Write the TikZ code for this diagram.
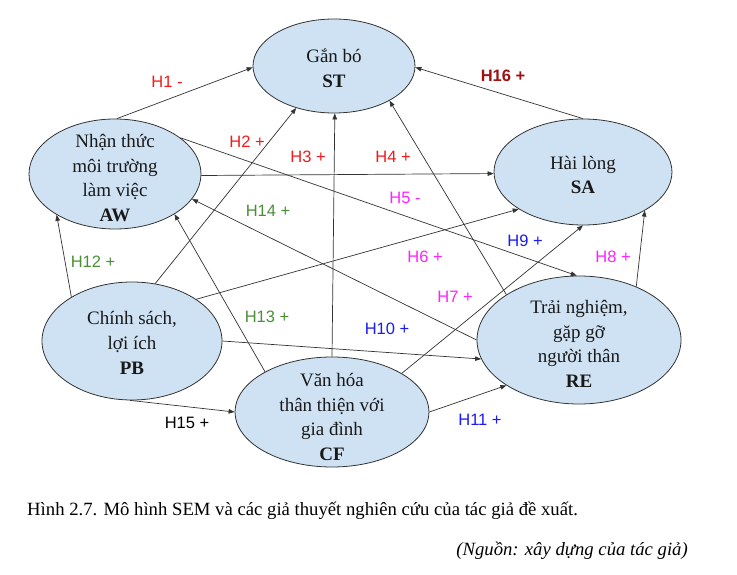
\documentclass[tikz,border=0pt]{standalone}
\usepackage{fontspec}
\setmainfont{Liberation Serif}
\newfontfamily\labfont{Liberation Sans}
\usetikzlibrary{shapes.geometric,arrows.meta}
\definecolor{nodefill}{HTML}{CFE2F3}
\definecolor{hred}{HTML}{F21A1A}
\definecolor{hdred}{HTML}{9C1212}
\definecolor{hmag}{HTML}{FF22FF}
\definecolor{hblue}{HTML}{1A1AF5}
\definecolor{hgreen}{HTML}{4A8F35}
\definecolor{lnc}{HTML}{333333}
\begin{document}
\begin{tikzpicture}[x=1pt,y=-1pt,
  var/.style={ellipse,draw=lnc,line width=0.8pt,fill=nodefill,inner sep=0pt},
  vtext/.style={align=center,font=\fontsize{19}{24.7}\selectfont,inner sep=0pt,text=black!90},
  hyp/.style={font=\labfont\fontsize{16.5}{18}\selectfont,inner sep=0pt},
  arr/.style={draw=lnc,line width=0.7pt,-{Triangle[length=6pt,width=4.5pt]}}
]
\fill[white] (0,0) rectangle (737,575);
\useasboundingbox (0,0) rectangle (737,575);

% variables
\node[var,minimum width=162pt,minimum height=94pt] (ST) at (334,66) {};
\node[var,minimum width=172pt,minimum height=110pt] (AW) at (115,174) {};
\node[var,minimum width=178pt,minimum height=106pt] (SA) at (583,172) {};
\node[var,minimum width=180pt,minimum height=118pt] (PB) at (132,341) {};
\node[var,minimum width=204pt,minimum height=128pt] (RE) at (579,340) {};
\node[var,minimum width=194pt,minimum height=110pt] (CF) at (332,412) {};

\node[vtext] (STt) at (334,68) {Gắn bó\\\textbf{ST}};
\node[vtext] (AWt) at (115,178) {Nhận thức\\môi trường\\làm việc\\\textbf{AW}};
\node[vtext] (SAt) at (583,175) {Hài lòng\\\textbf{SA}};
\node[vtext] (PBt) at (132,343) {Chính sách,\\lợi ích\\\textbf{PB}};
\node[vtext] (REt) at (579,344) {Trải nghiệm,\\gặp gỡ\\người thân\\\textbf{RE}};
\node[vtext] (CFt) at (332,417) {Văn hóa\\thân thiện với\\gia đình\\\textbf{CF}};

% connectors
\draw[arr] (AW.88) -- (ST.181);
\draw[arr] (PB.68.7) -- (ST.228.4);
\draw[arr] (CF.90) -- (ST.271);
\draw[arr] (AW.359) -- (SA.181);
\draw[arr] (AW.29.6) -- (RE.92);
\draw[arr] (PB.33.5) -- (SA.210.3);
\draw[arr] (CF.29.4) -- (SA.270);
\draw[arr] (RE.43.4) -- (SA.328.4);
\draw[arr] (RE.148.3) -- (ST.328.6);
\draw[arr] (PB.0.6) -- (RE.191.7);
\draw[arr] (CF.0) -- (RE.212.4);
\draw[arr] (PB.144.7) -- (AW.215.6);
\draw[arr] (CF.149.9) -- (AW.326.5);
\draw[arr] (RE.180) -- (AW.342);
\draw[arr] (PB.268) -- (CF.180);
\draw[arr] (SA.90) -- (ST.359.3);

% hypothesis labels
\node[hyp,text=hred] (h1) at (167,82) {H1 -};
\node[hyp,text=hred] (h2) at (247,142) {H2 +};
\node[hyp,text=hred] (h3) at (308,157) {H3 +};
\node[hyp,text=hred] (h4) at (393,157) {H4 +};
\node[hyp,text=hmag] (h5) at (405,198) {H5 -};
\node[hyp,text=hmag] (h6) at (425,257) {H6 +};
\node[hyp,text=hmag] (h7) at (455,297) {H7 +};
\node[hyp,text=hmag] (h8) at (613,257) {H8 +};
\node[hyp,text=hblue] (h9) at (525,241) {H9 +};
\node[hyp,text=hblue] (h10) at (387,329) {H10 +};
\node[hyp,text=hblue] (h11) at (480,420) {H11 +};
\node[hyp,text=hgreen] (h12) at (93,262) {H12 +};
\node[hyp,text=hgreen] (h13) at (267,317) {H13 +};
\node[hyp,text=hgreen] (h14) at (268,211) {H14 +};
\node[hyp,text=black] (h15) at (187,423) {H15 +};
\node[hyp,text=hdred,font=\labfont\bfseries\fontsize{16.5}{18}\selectfont] (h16) at (503,76) {H16 +};

% caption
\node[anchor=base west,inner sep=0pt,font=\fontsize{18.7}{22}\selectfont] (cap) at (27,515)
  {Hình 2.7. Mô hình SEM và các giả thuyết nghiên cứu của tác giả đề xuất.};
\node[anchor=base east,inner sep=0pt,font=\itshape\fontsize{18.7}{22}\selectfont] (src) at (688,555)
  {(Nguồn: xây dựng của tác giả)};
\end{tikzpicture}
\end{document}
